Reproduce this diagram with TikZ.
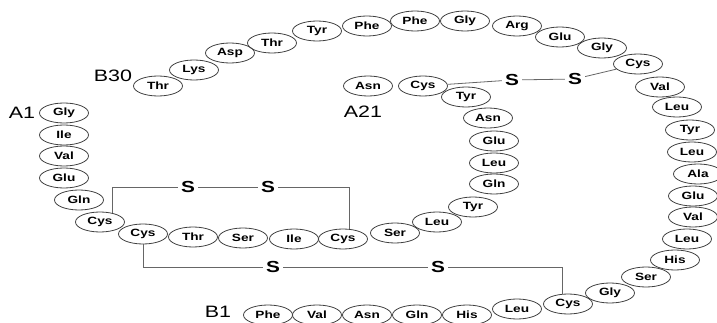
\documentclass[tikz,border=0pt]{standalone}
\usepackage{fontspec}
\setmainfont{Liberation Sans}
\newfontfamily\resfont[FakeStretch=1.3]{Liberation Sans}
\tikzset{
  res/.style={ellipse, draw=black!75, line width=.8pt, minimum width=49pt,
    minimum height=20pt, inner sep=0pt, font=\resfont\bfseries\fontsize{10.5}{10.5}\selectfont},
  sulf/.style={inner sep=3pt, font=\resfont\bfseries\fontsize{16}{16}\selectfont},
  chain/.style={inner sep=0pt, font=\resfont\fontsize{16.5}{16.5}\selectfont},
  bond/.style={draw=black!60, line width=.8pt}
}
\usetikzlibrary{shapes.geometric}
\begin{document}
\begin{tikzpicture}[x=1pt,y=-1pt]
  \useasboundingbox (0,0) rectangle (717,323);
  \clip (0,0) rectangle (717,323);
  % A chain
  \foreach \n/\x/\y/\t in {a1/64/113/Gly, a2/64/135/Ile, a3/64/156/Val, a4/64/178/Glu,
      a5/79/200/Gln, a6/100/222/Cys, a7/143/234/Cys, a8/193/237/Thr, a9/243/238/Ser,
      a10/294/239/Ile, a11/343/239/Cys, a12/395/233/Ser, a13/437/222/Leu, a14/473/207/Tyr,
      a15/494/184/Gln, a16/494/163/Leu, a17/494/141/Glu, a18/488/118/Asn, a19/466/97/Tyr,
      a20/423/86/Cys, a21/368/86/Asn} {
    \node[res] (\n) at (\x,\y) {\t}; }
  % B chain
  \foreach \n/\x/\y/\t in {b1/268/315/Phe, b2/317/315/Val, b3/367/315/Asn, b4/417/315/Gln,
      b5/467/315/His, b6/517/309/Leu, b7/568/304/Cys, b8/610/293/Gly, b9/646/277/Ser,
      b10/675/260/His, b11/687/239/Leu, b12/693/217/Val, b13/693/196/Glu, b14/698/174/Ala,
      b15/692/152/Leu, b16/690/130/Tyr, b17/677/107/Leu, b18/660/87/Val, b19/638/64/Cys,
      b20/602/48/Gly, b21/560/37/Glu, b22/517/26/Arg, b23/465/21/Gly, b24/415/21/Phe,
      b25/367/26/Phe, b26/317/31/Tyr, b27/272/43/Thr, b28/230/53/Asp, b29/194/70/Lys,
      b30/158/86/Thr} {
    \node[res] (\n) at (\x,\y) {\t}; }
  % chain ends
  \node[chain] (lA1) at (22,113) {A1};
  \node[chain] (lA21) at (363,112) {A21};
  \node[chain] (lB1) at (218,312) {B1};
  \node[chain] (lB30) at (113,76) {B30};
  % disulfide bridges
  \node[sulf] (s1) at (188,187) {S};
  \node[sulf] (s2) at (268,187) {S};
  \node[sulf] (s3) at (273,267) {S};
  \node[sulf] (s4) at (438,267) {S};
  \node[sulf] (s5) at (512,80) {S};
  \node[sulf] (s6) at (575,79) {S};
  \draw[bond] (a6.36) |- (s1) -- (s2) -| (a11.58);
  \draw[bond] (a7.south) |- (s3) -- (s4) -| (b7.117);
  \draw[bond] (a20) -- (s5) -- (s6) -- (b19);
\end{tikzpicture}
\end{document}
